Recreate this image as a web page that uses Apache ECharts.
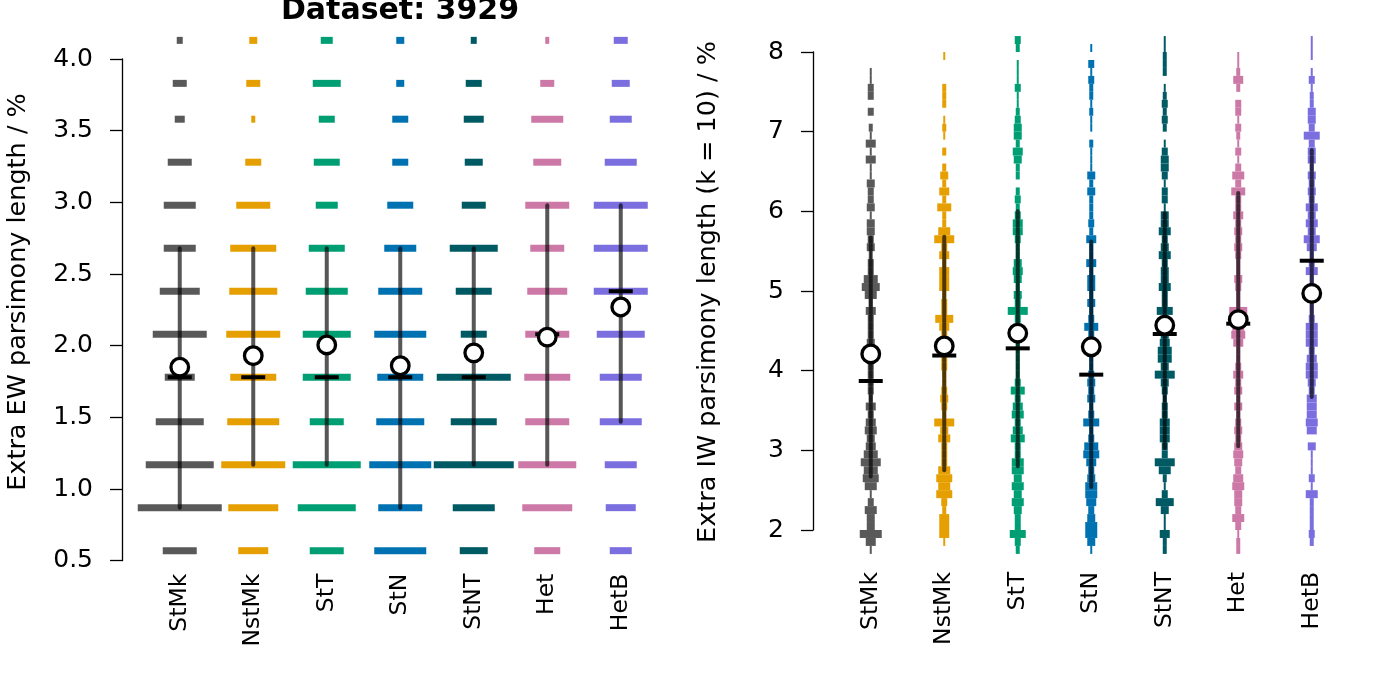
<!DOCTYPE html>
<html>
<head>
<meta charset="utf-8">
<script src="https://cdn.jsdelivr.net/npm/echarts@6/dist/echarts.min.js"></script>
<style>html,body{margin:0;padding:0;background:#fff}#c{width:1382px;height:691px}</style>
</head>
<body>
<div id="c"></div>
<script>
// ---------- data ----------
const categories = ['StMk', 'NstMk', 'StT', 'StN', 'StNT', 'Het', 'HetB'];
const colors = ['#595959', '#E69F00', '#009E73', '#0072B2', '#005A64', '#CC79A7', '#7B6FE0'];
const titleText = 'Dataset: 3929';
const ewAxisName = 'Extra EW parsimony length / %';
const iwAxisName = 'Extra IW parsimony length (k = 10) / %';
const ewTicks = [0.5, 1.0, 1.5, 2.0, 2.5, 3.0, 3.5, 4.0];
const iwTicks = [2, 3, 4, 5, 6, 7, 8];

// EW: discrete levels and frequency at each level (low -> high)
const ewLevels = [0.57, 0.87, 1.17, 1.47, 1.78, 2.08, 2.38, 2.68, 2.98, 3.28, 3.58, 3.83, 4.13];
const ewStMk  = [17, 42, 34, 24, 15, 27, 20, 16, 16, 12, 5, 7, 3];
const ewNstMk = [15, 25, 32, 26, 23, 27, 24, 23, 17, 8, 2, 7, 4];
const ewStT   = [17, 29, 34, 17, 24, 24, 21, 18, 11, 13, 8, 14, 6];
const ewStN   = [26, 22, 31, 24, 23, 26, 22, 16, 13, 8, 8, 4, 4];
const ewStNT  = [14, 21, 40, 23, 37, 13, 18, 24, 12, 9, 10, 8, 3];
const ewHet   = [13, 25, 29, 22, 23, 22, 20, 17, 22, 14, 16, 7, 2];
const ewHetB  = [11, 15, 16, 21, 21, 24, 27, 27, 27, 16, 11, 9, 7];
const ewMean   = [1.85, 1.93, 2.005, 1.86, 1.95, 2.06, 2.27];
const ewMedian = [1.78, 1.78, 1.78, 1.78, 1.78, 2.08, 2.38];
const ewLow    = [0.87, 1.17, 1.17, 0.87, 1.17, 1.17, 1.47];
const ewHigh   = [2.68, 2.68, 2.68, 2.68, 2.68, 2.98, 2.98];

// IW: histogram bins of width 0.1 starting at 1.7 (low -> high)
const iwBinStart = 1.7;
const iwBinWidth = 0.1;
const iwStMk  = [1,5,11,4,4,6,3,1,6,8, 7,10,7,5,4,6,5,3,5,2, 3,3,3,3,2,3,4,3,3,3, 5,2,6,9,7,3,3,1,4,3, 4,4,1,4,3,3,4,1,1,5, 1,5,1,2,0,3,0,3,3,1, 1,0,0,0,0];
const iwNstMk = [0,1,5,5,5,2,3,8,6,8, 6,3,3,3,6,4,10,2,3,4, 3,2,2,3,3,3,3,3,5,9, 3,3,2,5,5,5,2,5,3,10, 6,2,2,7,2,5,2,4,2,0, 2,0,1,2,1,0,2,2,2,0, 0,0,1,0,0];
const iwStT   = [2,3,8,3,3,4,6,4,6,4, 6,6,3,3,7,5,3,6,5,3, 7,3,2,2,2,2,2,2,2,3, 10,3,4,2,4,5,4,2,2,3, 5,5,3,2,3,2,0,2,2,4, 5,2,4,4,3,2,1,1,3,1, 1,1,0,2,3];
const iwStN   = [1,4,6,6,4,3,5,6,6,4, 3,5,8,7,3,2,8,3,2,4, 3,4,3,2,2,3,3,3,7,3, 2,4,2,4,4,2,5,2,2,5, 2,3,2,2,2,4,2,4,1,1, 1,2,0,1,1,2,1,2,2,3, 1,3,0,1,0];
const iwStNT  = [2,2,5,1,1,4,9,3,1,2, 6,10,3,3,5,5,5,3,3,2, 3,4,10,4,7,7,5,4,4,3, 8,3,3,6,4,4,3,6,4,3, 6,4,4,1,3,3,1,3,4,4, 3,1,0,2,3,2,3,2,1,0, 2,2,2,1,1];
const iwHet   = [2,2,1,3,6,3,4,4,6,5, 3,4,5,4,3,4,3,2,4,2, 4,3,5,3,2,2,5,7,6,7, 9,2,2,3,4,2,2,3,4,3, 4,3,5,3,3,7,3,6,3,1, 3,1,2,3,1,3,3,0,2,5, 2,1,1,0,0];
const iwHetB  = [0,2,3,2,2,2,2,6,1,3, 1,1,1,4,0,5,6,5,5,5, 3,4,6,6,5,3,6,6,6,3, 2,2,3,3,2,6,3,2,5,8, 4,6,4,6,3,4,3,4,2,4, 4,3,8,3,4,4,2,2,1,3, 1,0,1,1,1];
const iwMean   = [4.21, 4.31, 4.47, 4.30, 4.57, 4.64, 4.97];
const iwMedian = [3.87, 4.19, 4.28, 3.95, 4.46, 4.59, 5.38];
const iwLow    = [2.67, 2.75, 2.80, 2.54, 3.03, 3.05, 3.67];
const iwHigh   = [5.67, 5.68, 6.00, 5.62, 5.98, 6.23, 6.77];

// ---------- build ----------
const ewFreq = [ewStMk, ewNstMk, ewStT, ewStN, ewStNT, ewHet, ewHetB];
const iwFreq = [iwStMk, iwNstMk, iwStT, iwStN, iwStNT, iwHet, iwHetB];
const PX_PER_COUNT = 2;
const FONT = 'DejaVu Sans';

const ewBarData = [];
ewFreq.forEach((arr, c) => arr.forEach((n, i) => { if (n > 0) ewBarData.push([c, ewLevels[i], n]); }));
const iwBarData = [];
iwFreq.forEach((arr, c) => arr.forEach((n, i) => {
  if (n > 0) {
    const lo = +(iwBinStart + i * iwBinWidth).toFixed(2);
    iwBarData.push([c, lo, +(lo + iwBinWidth).toFixed(2), n]);
  }
}));
const zipRange = (lo, hi) => categories.map((_, c) => [c, lo[c], hi[c]]);
const zipVal = (v) => categories.map((_, c) => [c, v[c]]);

function ewBarRender(params, api) {
  const c = api.value(0), v = api.value(1), n = api.value(2);
  const p = api.coord([c, v]);
  const w = n * PX_PER_COUNT;
  return { type: 'rect', shape: { x: p[0] - w / 2, y: p[1] - 3.5, width: w, height: 7 }, style: { fill: colors[c] } };
}
function iwBarRender(params, api) {
  const c = api.value(0), lo = api.value(1), hi = api.value(2), n = api.value(3);
  const p1 = api.coord([c, lo]), p2 = api.coord([c, hi]);
  const w = n * PX_PER_COUNT;
  return { type: 'rect', shape: { x: p1[0] - w / 2, y: p2[1], width: w, height: p1[1] - p2[1] }, style: { fill: colors[c] } };
}
function rangeRender(params, api) {
  const c = api.value(0);
  const p1 = api.coord([c, api.value(1)]), p2 = api.coord([c, api.value(2)]);
  return { type: 'line', shape: { x1: p1[0], y1: p1[1], x2: p2[0], y2: p2[1] },
    style: { stroke: 'rgba(0,0,0,0.66)', lineWidth: 4, lineCap: 'round' } };
}
function medianRender(params, api) {
  const c = api.value(0);
  const p = api.coord([c, api.value(1)]);
  return { type: 'rect', shape: { x: p[0] - 12, y: p[1] - 2, width: 24, height: 4 }, style: { fill: '#000' } };
}
function meanRender(params, api) {
  const c = api.value(0);
  const p = api.coord([c, api.value(1)]);
  return { type: 'circle', shape: { cx: p[0], cy: p[1], r: 8.8 }, style: { fill: '#fff', stroke: '#000', lineWidth: 3.3 } };
}

function panelSeries(idx, barData, barRender, lo, hi, med, mean) {
  const base = { type: 'custom', coordinateSystem: 'cartesian2d', xAxisIndex: idx, yAxisIndex: idx, clip: false, silent: true, animation: false };
  return [
    Object.assign({}, base, { data: barData, renderItem: barRender, z: 2 }),
    Object.assign({}, base, { data: zipRange(lo, hi), renderItem: rangeRender, z: 3 }),
    Object.assign({}, base, { data: zipVal(med), renderItem: medianRender, z: 4 }),
    Object.assign({}, base, { data: zipVal(mean), renderItem: meanRender, z: 5 })
  ];
}

const xAxisCommon = (gi, margin) => ({
  type: 'category', gridIndex: gi, data: categories, boundaryGap: true,
  axisLine: { show: false }, axisTick: { show: false }, splitLine: { show: false },
  axisLabel: { rotate: 90, margin: margin, color: '#000', fontSize: 23.5, fontFamily: FONT, interval: 0 }
});
const yAxisCommon = (gi, ticks, dec) => ({
  type: 'value', gridIndex: gi, min: ticks[0], max: ticks[ticks.length - 1], interval: ticks[1] - ticks[0],
  offset: 21, splitLine: { show: false },
  axisLine: { show: true, lineStyle: { color: '#000', width: 1.3 } },
  axisTick: { show: true, length: 12, lineStyle: { color: '#000', width: 1.3 } },
  axisLabel: { color: '#000', fontSize: 25, fontFamily: FONT, margin: 29, formatter: v => v.toFixed(dec) }
});

const chart = echarts.init(document.getElementById('c'), null, { renderer: 'canvas' });
chart.setOption({
  animation: false,
  backgroundColor: '#fff',
  grid: [
    { left: 143, top: 59, width: 514.5, height: 501.7 },
    { left: 834, top: 52, width: 514.5, height: 478 }
  ],
  xAxis: [xAxisCommon(0, 13), xAxisCommon(1, 42)],
  yAxis: [yAxisCommon(0, ewTicks, 1), yAxisCommon(1, iwTicks, 0)],
  graphic: [
    { type: 'text', x: 400, y: 11, style: { text: titleText, align: 'center', verticalAlign: 'middle', font: 'bold 30px "' + FONT + '"', fill: '#000' } },
    { type: 'text', x: 18, y: 292, rotation: Math.PI / 2, style: { text: ewAxisName, align: 'center', verticalAlign: 'middle', font: '25.5px "' + FONT + '"', fill: '#000' } },
    { type: 'text', x: 708, y: 292, rotation: Math.PI / 2, style: { text: iwAxisName, align: 'center', verticalAlign: 'middle', font: '25.5px "' + FONT + '"', fill: '#000' } }
  ],
  series: [].concat(
    panelSeries(0, ewBarData, ewBarRender, ewLow, ewHigh, ewMedian, ewMean),
    panelSeries(1, iwBarData, iwBarRender, iwLow, iwHigh, iwMedian, iwMean)
  )
});
</script>
</body>
</html>
